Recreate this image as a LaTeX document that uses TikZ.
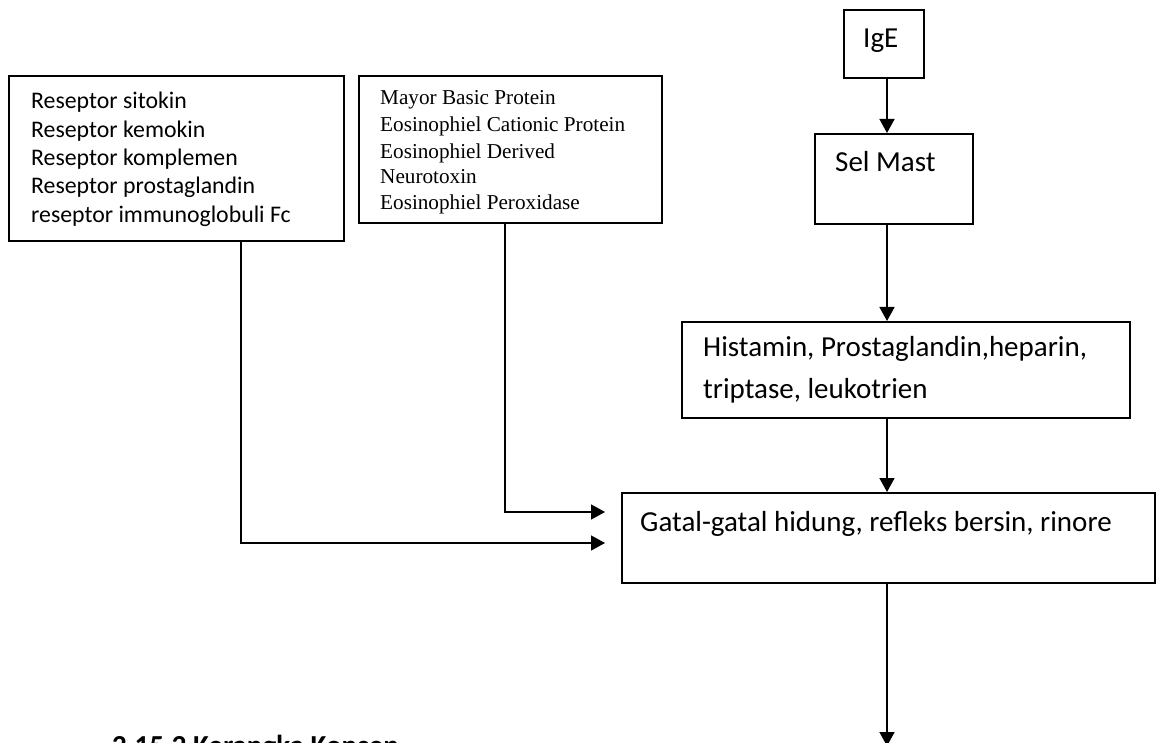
\documentclass[tikz,border=0pt]{standalone}
\usepackage{fontspec}
\setmainfont{Carlito}
\newfontfamily\timesf{Liberation Serif}
\usetikzlibrary{arrows.meta}
\begin{document}
\begin{tikzpicture}[x=1pt,y=-1pt,
  box/.style={draw, line width=1.6pt, rectangle, inner sep=0pt, anchor=north west},
  arr/.style={-{Triangle[length=14pt,width=15pt]}, line width=1.6pt},
  lt/.style={anchor=base west, inner sep=0pt, font=\fontsize{23.8}{28}\selectfont},
  mt/.style={anchor=base west, inner sep=0pt, font=\timesf\fontsize{21.2}{25}\selectfont},
  rt/.style={anchor=base west, inner sep=0pt, font=\fontsize{29}{35}\selectfont},
  tt/.style={anchor=base west, inner sep=0pt, font=\bfseries\fontsize{29}{35}\selectfont}]
\useasboundingbox (0,0) rectangle (1157,743);
% boxes
\node[box, minimum width=335pt, minimum height=165pt] (L) at (8,75) {};
\node[box, minimum width=303pt, minimum height=147pt] (M) at (358,75) {};
\node[box, minimum width=80pt, minimum height=68pt] (IgE) at (843,9) {};
\node[box, minimum width=158pt, minimum height=90pt] (S) at (814,133) {};
\node[box, minimum width=448pt, minimum height=96pt] (H) at (681,321) {};
\node[box, minimum width=533pt, minimum height=90pt] (G) at (621,492) {};
% texts
\node[lt] (l1) at (31,109) {Reseptor sitokin};
\node[lt] (l2) at (31,138) {Reseptor kemokin};
\node[lt] (l3) at (31,166) {Reseptor komplemen};
\node[lt] (l4) at (31,194) {Reseptor prostaglandin};
\node[lt] (l5) at (31,223) {reseptor immunoglobuli Fc};
\node[mt] (m1) at (380,105) {Mayor Basic Protein};
\node[mt] (m2) at (380,132) {Eosinophiel Cationic Protein};
\node[mt] (m3) at (380,159) {Eosinophiel Derived};
\node[mt] (m4) at (380,184) {Neurotoxin};
\node[mt] (m5) at (380,210) {Eosinophiel Peroxidase};
\node[rt] (t1) at (863,48) {IgE};
\node[rt] (t2) at (835,172) {Sel Mast};
\node[rt] (t3) at (703,357) {Histamin, Prostaglandin,heparin,};
\node[rt] (t4) at (703,398) {triptase, leukotrien};
\node[rt] (t5) at (640,531) {Gatal-gatal hidung, refleks bersin, rinore};
\node[tt] (title) at (112,755) {2.15.2 Kerangka Konsep};
% connectors
\coordinate (ax) at (887,0);
\coordinate (cl) at (241,543);
\coordinate (cm) at (505,512);
\coordinate (end) at (887,746);
\draw[arr, shorten >=16pt] (L.south -| cl) |- (G.west |- cl);
\draw[arr, shorten >=16pt] (M.south -| cm) |- (G.west |- cm);
\draw[arr] (IgE.south -| ax) -- (S.north -| ax);
\draw[arr] (S.south -| ax) -- (H.north -| ax);
\draw[arr] (H.south -| ax) -- (G.north -| ax);
\draw[arr] (G.south -| ax) -- (end);
\end{tikzpicture}
\end{document}
